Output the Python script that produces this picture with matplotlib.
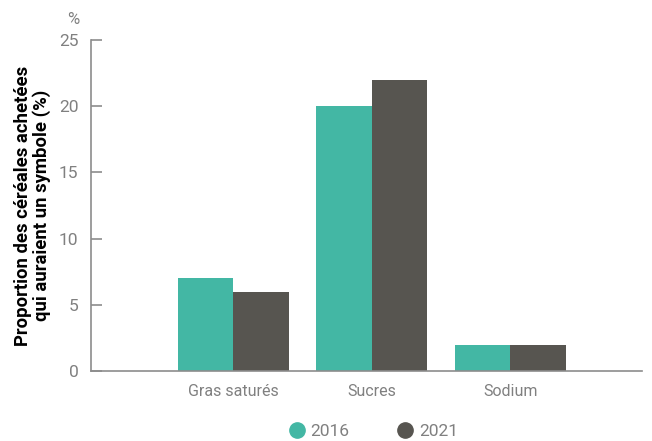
import numpy as np
import matplotlib.pyplot as plt
from matplotlib.lines import Line2D

categories = ["Gras saturés", "Sucres", "Sodium"]
years = ["2016", "2021"]
values_2016 = [7, 20, 2]
values_2021 = [6, 22, 2]
yticks = [0, 5, 10, 15, 20, 25]

col_2016 = "#43b7a4"
col_2021 = "#575550"
grey = "#808080"

plt.rcParams['font.family'] = ['Roboto', 'DejaVu Sans']

fig = plt.figure(figsize=(6.52, 4.41), dpi=100)
ax = fig.add_axes([0.1396, 0.1587, 0.8451, 0.7506])

x = np.arange(len(categories))
w = 0.4
ax.bar(x - w / 2, values_2016, w, color=col_2016)
ax.bar(x + w / 2, values_2021, w, color=col_2021)

ax.set_xlim(-1.025, 2.95)
ax.set_ylim(0, 25)
ax.set_yticks(yticks)
ax.set_xticks(x)
ax.set_xticklabels(categories)

for s in ["top", "right"]:
    ax.spines[s].set_visible(False)
for s in ["left", "bottom"]:
    ax.spines[s].set_color("#8c8c8c")
    ax.spines[s].set_linewidth(1.2)

ax.tick_params(axis="y", direction="in", length=8, width=1.2, color="#8c8c8c",
               labelsize=12.5, labelcolor=grey, pad=9)
ax.tick_params(axis="x", length=0, labelsize=11.5, labelcolor=grey, pad=9)

ax.set_ylabel("Proportion des céréales achetées\nqui auraient un symbole (%)",
              fontsize=13.3, fontweight="bold", color="black", linespacing=1.05)
ax.yaxis.set_label_coords(-0.072, 0.5)

fig.text(0.113, 0.955, "%", fontsize=12, color=grey, ha="center", va="center")

handles = [Line2D([], [], marker="o", linestyle="", markersize=11, color=c)
           for c in [col_2016, col_2021]]
leg = fig.legend(handles, years, loc="center", bbox_to_anchor=(0.571, 0.022),
                 ncol=2, frameon=False, fontsize=12.5, handletextpad=0.2,
                 columnspacing=2.6, handlelength=1.2, labelcolor=grey)

fig.savefig("out.png", dpi=100)
